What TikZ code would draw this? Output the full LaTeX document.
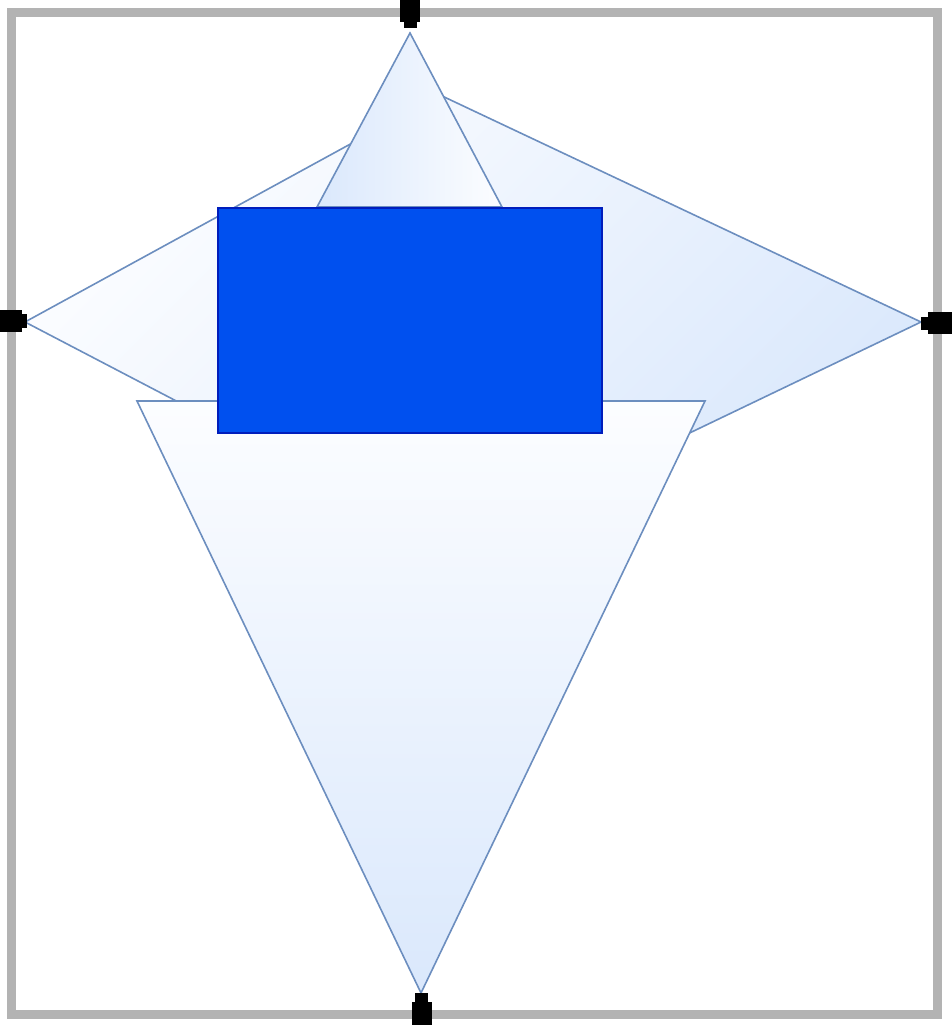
\documentclass[tikz,border=0pt]{standalone}
\usetikzlibrary{calc}
\definecolor{frgrey}{HTML}{B3B3B3}
\definecolor{shline}{HTML}{6C8EBF}
\definecolor{shfill}{HTML}{DAE8FC}
\definecolor{shwhite}{HTML}{FCFDFF}
\definecolor{boxfill}{HTML}{0050EF}
\definecolor{boxline}{HTML}{001DBC}
\tikzset{
  grpframe/.style ={draw=frgrey, line width=9pt},
  kite/.style     ={draw=shline, line width=1.6pt, line join=miter,
                    top color=shwhite, bottom color=shfill, shading angle=45},
  toptri/.style   ={draw=shline, line width=1.6pt,
                    left color=shfill, right color=shwhite},
  bottri/.style   ={draw=shline, line width=1.6pt,
                    top color=shwhite, bottom color=shfill},
  bluebox/.style  ={draw=boxline, line width=1.6pt, fill=boxfill},
  hdl/.style      ={fill=black, draw=none}
}
\begin{document}
\begin{tikzpicture}[x=1pt,y=-1pt]
  \useasboundingbox (0,0) rectangle (952,1028);
  % --- group frame
  \draw[grpframe] (11,12.5) rectangle (937,1014.5);
  % --- kite
  \coordinate (kl) at (25,322);
  \coordinate (kt) at (440,95);
  \coordinate (kr) at (921,322);
  \coordinate (kb) at (454,546);
  \draw[kite] (kl) -- (kt) -- (kr) -- (kb) -- cycle;
  % --- top triangle
  \coordinate (ta) at (410,33);
  \coordinate (tl) at (317,207);
  \coordinate (tr) at (502,207);
  \draw[toptri] (ta) -- (tr) -- (tl) -- cycle;
  % --- bottom triangle
  \coordinate (bl) at (137,401);
  \coordinate (br) at (705,401);
  \coordinate (ba) at (421,993);
  \draw[bottri] (bl) -- (br) -- (ba) -- cycle;
  % --- blue box
  \coordinate (rA) at (218,208);
  \coordinate (rB) at (602,433);
  \draw[bluebox] (rA) rectangle (rB);
  % --- handles on the frame
  \fill[hdl] (400,0) rectangle (420,22);      \fill[hdl] (403.5,22) rectangle (416.5,28);
  \fill[hdl] (0,310) rectangle (22,332);      \fill[hdl] (22,314) rectangle (27,328);
  \fill[hdl] (928,312) rectangle (952,334);   \fill[hdl] (921,317) rectangle (928,330);
  \fill[hdl] (412,1002) rectangle (432,1025); \fill[hdl] (415,993) rectangle (428,1002);
\end{tikzpicture}
\end{document}
